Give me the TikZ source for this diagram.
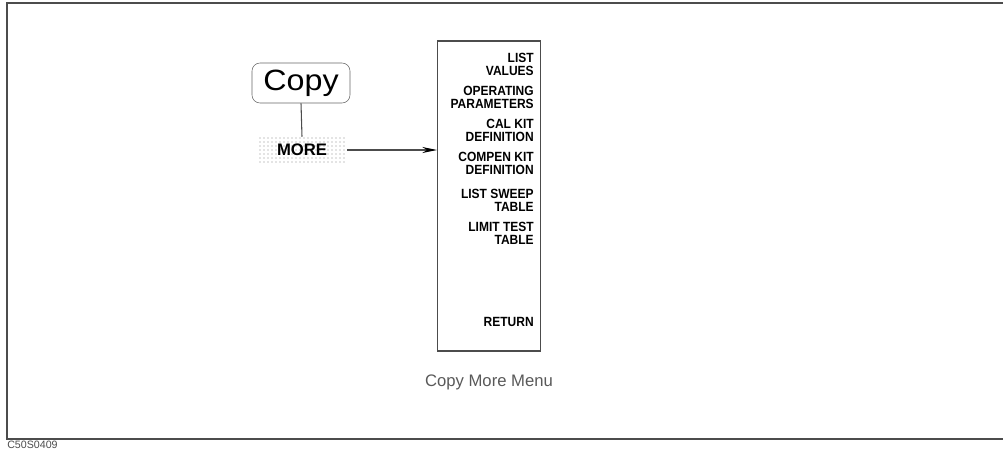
\documentclass[tikz,border=0pt]{standalone}
\usepackage{fontspec}
\setmainfont{Liberation Sans}
\newfontfamily\keyfont[FakeStretch=1.1]{Liberation Sans}
\newfontfamily\menufont[FakeStretch=0.9]{Liberation Sans}
\usetikzlibrary{patterns, arrows.meta}

\begin{document}
\begin{tikzpicture}[x=0.75pt, y=-0.75pt,
    framestyle/.style={draw=black!70, line width=1pt},
    hardkey/.style={draw=black!60, rounded corners=6pt, minimum width=73.5pt, minimum height=30pt, inner sep=0pt, font=\keyfont\fontsize{22}{22}\selectfont},
    softkey/.style={pattern=dots, pattern color=black!45, minimum width=67.5pt, minimum height=19.5pt, inner sep=0pt, font=\bfseries\fontsize{12.5}{12.5}\selectfont},
    menulabel/.style={anchor=east, align=right, inner sep=0pt, font=\menufont\bfseries\fontsize{10}{9.8}\selectfont}]
    \useasboundingbox (0,0) rectangle (1003,450);
    \draw[framestyle] (1003,3) -- (7,3) -- (7,439) -- (1003,439);
    \node[hardkey] (copy) at (301,83) {Copy};
    \node[softkey] (more) at (302,150) {MORE};
    \draw[black!70, line width=0.8pt] (copy.south) -- (more.north);
    \node[draw=black!70, line width=0.8pt, minimum width=77.25pt, minimum height=232.5pt, inner sep=0pt] (menu) at (489,196) {};
    \draw[black!70, line width=0.8pt, -{Stealth[length=11pt, width=4.5pt, black]}] (more.east) -- (menu.west |- more.east);
    % softkey labels
    \node[menulabel] (values) at (534,64.5) {LIST\\VALUES};
    \node[menulabel] (params) at (534,97.5) {OPERATING\\PARAMETERS};
    \node[menulabel] (calkit) at (534,130.5) {CAL KIT\\DEFINITION};
    \node[menulabel] (compen) at (534,163.5) {COMPEN KIT\\DEFINITION};
    \node[menulabel] (sweep) at (534,200.5) {LIST SWEEP\\TABLE};
    \node[menulabel] (limit) at (534,233.5) {LIMIT TEST\\TABLE};
    \node[menulabel] (return) at (534,322) {RETURN};
    \node[font=\fontsize{12.5}{12.5}\selectfont, text=black!65] (caption) at (489,382) {Copy More Menu};
    \node[anchor=west, inner sep=0pt, font=\fontsize{8}{8}\selectfont, text=black!70] (figno) at (7,445) {C50S0409};
\end{tikzpicture}
\end{document}
